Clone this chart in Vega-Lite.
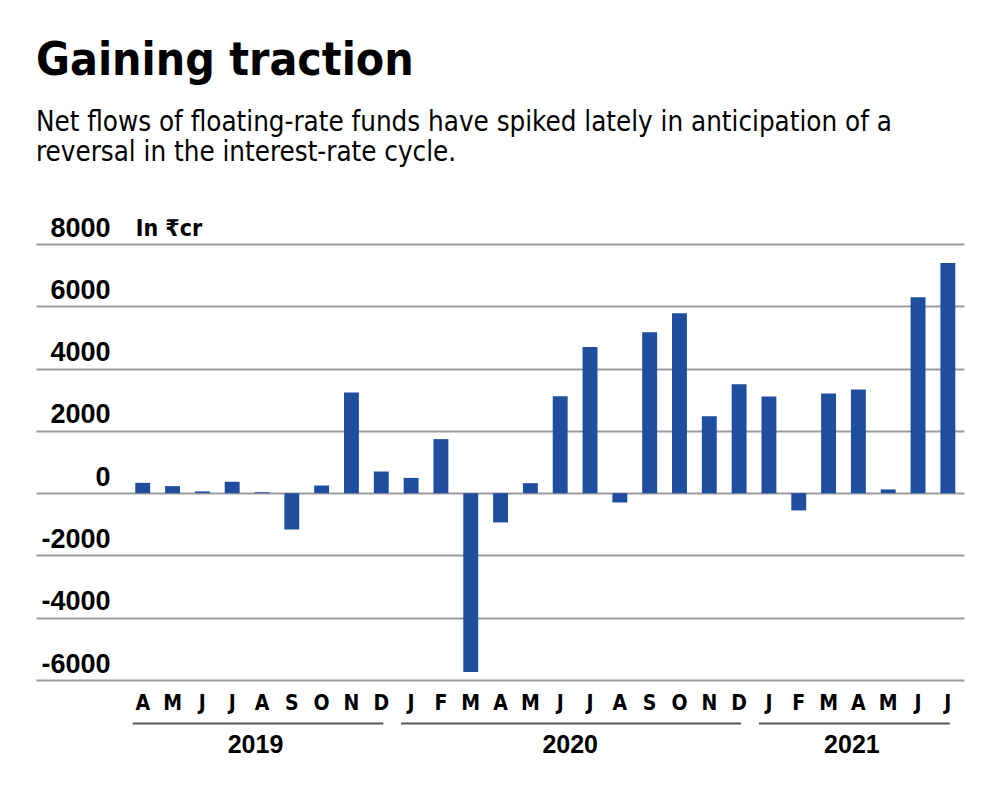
{
  "$schema": "https://vega.github.io/schema/vega-lite/v6.json",
  "width": 928,
  "height": 436,
  "autosize": {"type": "none"},
  "padding": {"left": 36, "top": 244, "right": 36, "bottom": 110},
  "background": "white",
  "title": {
    "text": "Gaining traction",
    "subtitle": ["Net flows of floating-rate funds have spiked lately in anticipation of a", "reversal in the interest-rate cycle."],
    "anchor": "start",
    "frame": "group",
    "font": "DejaVu Sans Condensed",
    "fontSize": 46,
    "fontWeight": "bold",
    "color": "black",
    "subtitleFont": "DejaVu Sans Condensed",
    "subtitleFontSize": 27.5,
    "subtitleColor": "black",
    "subtitleLineHeight": 30,
    "subtitlePadding": 24,
    "offset": 47
  },
  "datasets": {
    "flows": [
      {"month": "Apr-2019", "flow": 330},
      {"month": "May-2019", "flow": 225},
      {"month": "Jun-2019", "flow": 55},
      {"month": "Jul-2019", "flow": 365},
      {"month": "Aug-2019", "flow": 30},
      {"month": "Sep-2019", "flow": -1165},
      {"month": "Oct-2019", "flow": 245},
      {"month": "Nov-2019", "flow": 3230},
      {"month": "Dec-2019", "flow": 695},
      {"month": "Jan-2020", "flow": 490},
      {"month": "Feb-2020", "flow": 1735},
      {"month": "Mar-2020", "flow": -5745},
      {"month": "Apr-2020", "flow": -940},
      {"month": "May-2020", "flow": 320},
      {"month": "Jun-2020", "flow": 3110},
      {"month": "Jul-2020", "flow": 4695},
      {"month": "Aug-2020", "flow": -300},
      {"month": "Sep-2020", "flow": 5165},
      {"month": "Oct-2020", "flow": 5775},
      {"month": "Nov-2020", "flow": 2470},
      {"month": "Dec-2020", "flow": 3495},
      {"month": "Jan-2021", "flow": 3100},
      {"month": "Feb-2021", "flow": -555},
      {"month": "Mar-2021", "flow": 3200},
      {"month": "Apr-2021", "flow": 3325},
      {"month": "May-2021", "flow": 120},
      {"month": "Jun-2021", "flow": 6290},
      {"month": "Jul-2021", "flow": 7390}
    ],
    "years": [
      {"year": "2019", "first": "Apr-2019", "last": "Dec-2019", "mid": "Aug-2019", "group": "a"},
      {"year": "2020", "first": "Jan-2020", "last": "Dec-2020", "mid": "Jun-2020", "group": "b"},
      {"year": "2021", "first": "Jan-2021", "last": "Jul-2021", "mid": "Apr-2021", "group": "a"}
    ],
    "unit": [{"label": "In ₹cr", "month": "Apr-2019", "flow": 8000}]
  },
  "layer": [
    {
      "data": {"name": "flows"},
      "mark": {"type": "bar", "color": "#1f4e9f"},
      "encoding": {
        "x": {
          "field": "month",
          "type": "ordinal",
          "sort": null,
          "scale": {
            "domain": ["_1", "_2", "_3", "Apr-2019", "May-2019", "Jun-2019", "Jul-2019", "Aug-2019", "Sep-2019", "Oct-2019", "Nov-2019", "Dec-2019", "Jan-2020", "Feb-2020", "Mar-2020", "Apr-2020", "May-2020", "Jun-2020", "Jul-2020", "Aug-2020", "Sep-2020", "Oct-2020", "Nov-2020", "Dec-2020", "Jan-2021", "Feb-2021", "Mar-2021", "Apr-2021", "May-2021", "Jun-2021", "Jul-2021"],
            "paddingInner": 0.5,
            "paddingOuter": 0.31,
            "align": 0.53
          },
          "axis": {
            "title": null,
            "domain": false,
            "ticks": false,
            "labelAngle": 0,
            "labelExpr": "substring(datum.value, 0, 1) == '_' ? '' : substring(datum.value, 0, 1)",
            "labelFont": "DejaVu Sans Condensed",
            "labelFontWeight": "bold",
            "labelFontSize": 21,
            "labelColor": "black",
            "labelBaseline": "middle",
            "labelPadding": 23
          }
        },
        "y": {
          "field": "flow",
          "type": "quantitative",
          "scale": {"domain": [-6000, 8000], "nice": false},
          "axis": {
            "title": null,
            "values": [-6000, -4000, -2000, 0, 2000, 4000, 6000, 8000],
            "domain": false,
            "ticks": false,
            "grid": true,
            "gridColor": "#9b9b9f",
            "gridWidth": 2,
            "labelAlign": "right",
            "labelPadding": -74,
            "labelBaseline": "alphabetic",
            "labelOffset": -8,
            "labelFlush": false,
            "labelFont": "Liberation Sans",
            "labelFontWeight": "bold",
            "labelFontSize": 27,
            "labelColor": "black",
            "labelExpr": "datum.value < 0 ? '-' + abs(datum.value) : '' + datum.value"
          }
        }
      }
    },
    {
      "data": {"name": "unit"},
      "mark": {"type": "text", "align": "left", "baseline": "alphabetic", "dx": -7, "dy": -8, "font": "DejaVu Sans Condensed", "fontWeight": "bold", "fontSize": 23, "color": "black"},
      "encoding": {
        "x": {"field": "month", "type": "ordinal", "sort": null},
        "y": {"field": "flow", "type": "quantitative"},
        "text": {"field": "label"}
      }
    },
    {
      "data": {"name": "years"},
      "mark": {"type": "rule", "color": "#555555", "strokeWidth": 2, "xOffset": -10, "x2Offset": 2, "yOffset": 43.5},
      "encoding": {
        "x": {"field": "first", "type": "ordinal", "sort": null},
        "x2": {"field": "last"},
        "y": {"datum": -6000}
      }
    },
    {
      "data": {"name": "years"},
      "transform": [{"filter": "datum.group == 'a'"}],
      "mark": {"type": "text", "align": "center", "baseline": "middle", "dx": -6.5, "dy": 64.5, "font": "Liberation Sans", "fontWeight": "bold", "fontSize": 25, "color": "black"},
      "encoding": {
        "x": {"field": "mid", "type": "ordinal", "sort": null},
        "y": {"datum": -6000},
        "text": {"field": "year"}
      }
    },
    {
      "data": {"name": "years"},
      "transform": [{"filter": "datum.group == 'b'"}],
      "mark": {"type": "text", "align": "center", "baseline": "middle", "dx": 10, "dy": 64.5, "font": "Liberation Sans", "fontWeight": "bold", "fontSize": 25, "color": "black"},
      "encoding": {
        "x": {"field": "mid", "type": "ordinal", "sort": null},
        "y": {"datum": -6000},
        "text": {"field": "year"}
      }
    }
  ],
  "config": {
    "view": {"stroke": null},
    "font": "Liberation Sans"
  }
}
